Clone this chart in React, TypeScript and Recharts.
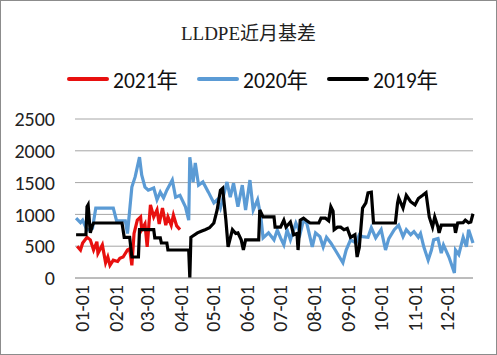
import { LineChart, Line, XAxis, YAxis, CartesianGrid } from "recharts";

// day of year (0 = 01-01) and value
const days2021 = [2, 5, 7, 11, 14, 17, 20, 21, 25, 28, 30, 32, 35, 39, 41, 44, 48, 50, 52, 54, 57, 60, 61, 64, 66, 69, 72, 75, 77, 80, 83, 85, 88, 90, 93, 96];
const vals2021 = [500, 440, 550, 640, 600, 440, 570, 390, 520, 240, 330, 200, 280, 260, 310, 330, 440, 460, 200, 700, 910, 960, 760, 850, 490, 1150, 960, 1070, 850, 1100, 830, 960, 830, 990, 820, 760];

const days2020 = [1, 5, 7, 11, 16, 19, 35, 38, 46, 48, 52, 55, 59, 61, 64, 67, 72, 75, 78, 81, 84, 89, 92, 96, 101, 104, 105, 108, 110, 113, 117, 122, 127, 130, 133, 139, 142, 145, 149, 153, 156, 160, 163, 167, 170, 172, 177, 182, 185, 188, 191, 194, 197, 202, 206, 209, 212, 217, 220, 224, 227, 230, 234, 238, 245, 248, 252, 257, 260, 263, 268, 271, 275, 280, 284, 287, 292, 296, 300, 303, 307, 310, 314, 316, 319, 323, 326, 328, 332, 335, 337, 342, 347, 348, 351, 355, 358, 360, 364];
const vals2020 = [940, 870, 910, 750, 780, 1100, 1100, 900, 900, 700, 1430, 1590, 1900, 1620, 1430, 1380, 1415, 1230, 1350, 1260, 1380, 1540, 1270, 1300, 1120, 910, 1900, 1510, 1810, 1460, 1510, 1350, 1180, 1230, 1100, 1510, 1270, 1490, 1120, 1460, 1070, 1540, 1070, 1230, 960, 630, 710, 600, 755, 630, 520, 755, 600, 865, 700, 910, 860, 490, 710, 650, 490, 640, 550, 440, 240, 440, 600, 550, 680, 650, 640, 790, 630, 760, 440, 620, 760, 830, 650, 760, 680, 730, 640, 700, 490, 280, 440, 600, 620, 390, 520, 330, 80, 440, 370, 640, 490, 760, 550];

const days2019 = [1, 7, 10, 11, 12, 14, 16, 17, 43, 45, 50, 52, 58, 59, 72, 73, 78, 79, 84, 85, 104, 105, 106, 112, 116, 119, 123, 127, 130, 133, 135, 138, 139, 140, 144, 147, 149, 152, 154, 156, 168, 169, 172, 182, 183, 188, 191, 193, 197, 200, 203, 204, 206, 209, 212, 215, 223, 225, 229, 232, 234, 236, 237, 240, 243, 246, 249, 252, 256, 258, 260, 263, 266, 268, 271, 273, 293, 295, 296, 300, 303, 307, 311, 314, 318, 321, 324, 327, 329, 332, 333, 335, 347, 348, 350, 355, 357, 360, 362, 364];
const vals2019 = [680, 680, 680, 1120, 1150, 710, 830, 865, 865, 640, 640, 330, 330, 760, 760, 630, 630, 550, 550, 440, 440, 0, 640, 710, 740, 760, 790, 865, 1070, 1380, 1410, 910, 700, 490, 760, 700, 710, 600, 440, 600, 600, 1070, 960, 960, 800, 800, 910, 800, 880, 680, 700, 440, 910, 940, 900, 865, 865, 940, 940, 900, 1120, 1050, 760, 800, 800, 760, 780, 640, 680, 330, 480, 1100, 1180, 1340, 1350, 865, 865, 1180, 1260, 1100, 1300, 1200, 1150, 1250, 1300, 1340, 960, 800, 960, 800, 710, 830, 830, 710, 865, 870, 910, 870, 880, 1010];

const monthStarts = [0, 31, 59, 90, 120, 151, 181, 212, 243, 273, 304, 334];
const monthLabels = ["01-01", "02-01", "03-01", "04-01", "05-01", "06-01", "07-01", "08-01", "09-01", "10-01", "11-01", "12-01"];
const yTicks = [0, 500, 1000, 1500, 2000, 2500];

const series = [
  { name: "2021年", color: "#e8100f", data: days2021.map((d, i) => ({ d, v: vals2021[i] })) },
  { name: "2020年", color: "#5b9bd5", data: days2020.map((d, i) => ({ d, v: vals2020[i] })) },
  { name: "2019年", color: "#000000", data: days2019.map((d, i) => ({ d, v: vals2019[i] })) },
];

const font = "Carlito, 'Liberation Sans', 'Noto Sans CJK SC', sans-serif";

export default function App() {
  return (
    <div
      style={{
        position: "absolute",
        left: 0,
        top: 0,
        width: 497,
        height: 355,
        boxSizing: "border-box",
        border: "1px solid #8c8c8c",
        background: "#fff",
        fontFamily: font,
      }}
    >
      <div
        style={{
          position: "absolute",
          top: 17,
          width: "100%",
          textAlign: "center",
          fontSize: 19,
          fontFamily: "'Liberation Serif', 'Noto Sans CJK SC', serif",
          color: "#222",
        }}
      >
        LLDPE近月基差
      </div>
      <div style={{ position: "absolute", top: 62, left: 66, display: "flex", fontSize: 21.5, color: "#111" }}>
        {series.map((s) => (
          <div key={s.name} style={{ display: "flex", alignItems: "center", width: 130 }}>
            <span style={{ width: 42, height: 4, borderRadius: 2, background: s.color, marginRight: 4 }} />
            <span>{s.name}</span>
          </div>
        ))}
      </div>
      <LineChart
        width={495}
        height={353}
        margin={{ top: 118, right: 23, bottom: 6, left: 14 }}
        style={{ position: "absolute", left: 0, top: 0 }}
      >
        <CartesianGrid vertical={false} stroke="#a6a6a6" />
        <XAxis
          type="number"
          dataKey="d"
          domain={[0, 364]}
          ticks={monthStarts}
          tickFormatter={(d: number) => monthLabels[monthStarts.indexOf(d)]}
          interval={0}
          angle={-90}
          textAnchor="end"
          height={70}
          tickLine={false}
          axisLine={{ stroke: "#a6a6a6" }}
          tickMargin={8}
          tick={{ fontSize: 20, fill: "#222", fontFamily: font, verticalAnchor: "middle", dy: -7 }}
        />
        <YAxis
          domain={[0, 2500]}
          ticks={yTicks}
          width={60}
          tickLine={false}
          axisLine={false}
          tickMargin={14}
          tick={{ fontSize: 20, fill: "#222", fontFamily: font }}
        />
        {series.map((s) => (
          <Line
            key={s.name}
            data={s.data}
            dataKey="v"
            name={s.name}
            stroke={s.color}
            strokeWidth={3.2}
            dot={false}
            type="linear"
            isAnimationActive={false}
          />
        ))}
      </LineChart>
    </div>
  );
}
